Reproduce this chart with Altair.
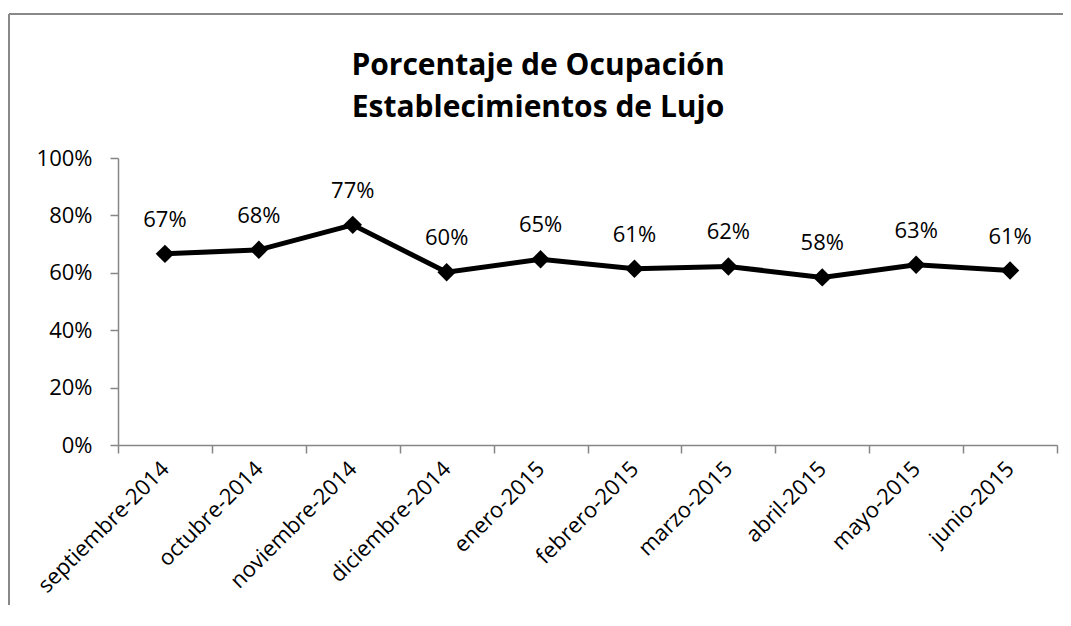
import altair as alt
import pandas as pd

months = ["septiembre-2014", "octubre-2014", "noviembre-2014", "diciembre-2014",
          "enero-2015", "febrero-2015", "marzo-2015", "abril-2015",
          "mayo-2015", "junio-2015"]
values = [0.666, 0.68, 0.767, 0.602, 0.647, 0.614, 0.622, 0.584, 0.628, 0.608]
title_lines = ["Porcentaje de Ocupación", "Establecimientos de Lujo"]
y_ticks = [0, 0.2, 0.4, 0.6, 0.8, 1.0]

df = pd.DataFrame({"mes": months, "valor": values})

FONT = "Open Sans"
AX = "#868686"

x_enc = alt.X("mes:N", sort=months,
              scale=alt.Scale(type="band", paddingInner=0, paddingOuter=0),
              axis=alt.Axis(title=None, tickBand="extent", labelAngle=-45,
                            labelAlign="right", labelBaseline="middle",
                            labelPadding=12, labelFontSize=22, labelFont=FONT,
                            labelColor="#000000", domainColor=AX, tickColor=AX,
                            domainWidth=1.5, tickWidth=1.5, tickSize=8,
                            labelOverlap=False))
y_enc = alt.Y("valor:Q", scale=alt.Scale(domain=[0, 1]),
              axis=alt.Axis(title=None, values=y_ticks, format=".0%", grid=False,
                            labelFontSize=22, labelFont=FONT, labelColor="#000000",
                            labelPadding=18, domainColor=AX, tickColor=AX,
                            domainWidth=1.5, tickWidth=1.5, tickSize=8))

base = alt.Chart(df)

line = base.mark_line(color="#000000", strokeWidth=5).encode(x=x_enc, y=y_enc)
pts = base.mark_point(shape="diamond", filled=True, color="#000000", size=340,
                      opacity=1).encode(x=x_enc, y=y_enc)
labels = base.mark_text(font=FONT, fontSize=22, color="#000000", dy=-27,
                        baseline="alphabetic").encode(
    x=x_enc, y=y_enc, text=alt.Text("valor:Q", format=".0%"))

t1 = alt.Chart(pd.DataFrame({"t": [title_lines[0]]})).mark_text(
    font=FONT, fontSize=30, fontWeight="bold", color="#000000",
    baseline="alphabetic", align="center").encode(
    x=alt.value(420), y=alt.value(-83), text="t")
t2 = alt.Chart(pd.DataFrame({"t": [title_lines[1]]})).mark_text(
    font=FONT, fontSize=30, fontWeight="bold", color="#000000",
    baseline="alphabetic", align="center").encode(
    x=alt.value(420), y=alt.value(-41), text="t")

one = pd.DataFrame({"a": [0]})
frame_top = alt.Chart(one).mark_rule(color="#888888", strokeWidth=2).encode(
    x=alt.value(-109), x2=alt.value(3000), y=alt.value(-144))
frame_left = alt.Chart(one).mark_rule(color="#888888", strokeWidth=2).encode(
    x=alt.value(-109), y=alt.value(-144), y2=alt.value(3000))

chart = alt.layer(frame_top, frame_left, line, pts, labels, t1, t2).properties(
    width=939, height=287,
    autosize=alt.AutoSizeParams(type="none"),
    padding={"left": 110, "top": 150, "right": 6, "bottom": 160},
    background="white",
).configure_view(stroke="transparent", strokeWidth=0)

chart.save("out.html", embed_options={"renderer": "svg", "actions": False})
